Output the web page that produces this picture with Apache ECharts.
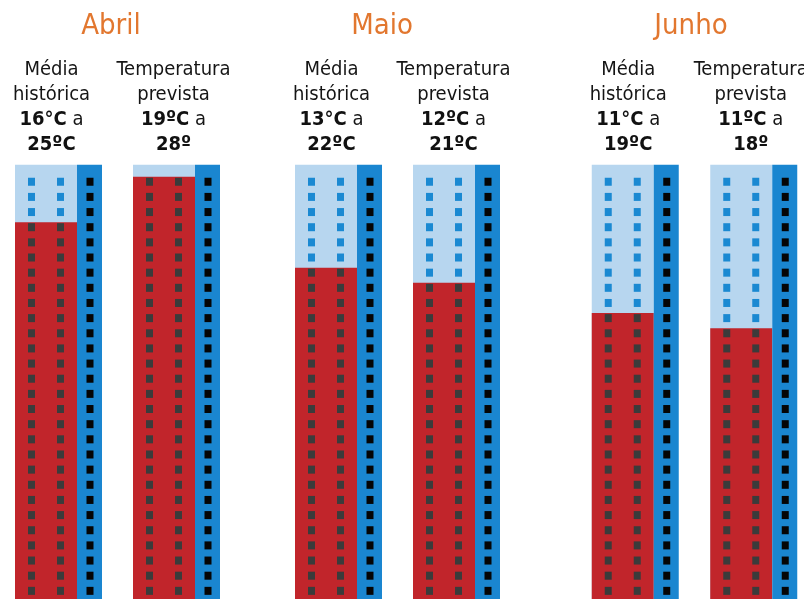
<!DOCTYPE html>
<html>
<head>
<meta charset="utf-8">
<script src="https://cdn.jsdelivr.net/npm/echarts@6/dist/echarts.min.js"></script>
<style>
html, body { margin: 0; padding: 0; background: #fff; }
#main { width: 804px; height: 599px; }
</style>
</head>
<body>
<div id="main"></div>
<script>
// dados
var months = ['Abril', 'Maio', 'Junho'];
var barNames = ['Média\nhistórica', 'Temperatura\nprevista'];
var histMin = [16, 13, 11];
var histMax = [25, 22, 19];
var prevMin = [19, 12, 11];
var prevMax = [28, 21, 18];
var histMinUnit = ['°C', '°C', '°C'];
var histMaxUnit = ['ºC', 'ºC', 'ºC'];
var prevMinUnit = ['ºC', 'ºC', 'ºC'];
var prevMaxUnit = ['º', 'ºC', 'º'];
var buildingTop = 28.8;

var FONT = "'DejaVu Sans Condensed', 'Liberation Sans', sans-serif";
var gridLeft = [-0.5, 279.5, 576];
var gridRight = [568.5, 288.5, -9];
var titleX = [111, 382, 691];

function labelText(m, cat) {
	var lo = cat === 0 ? histMin[m] + histMinUnit[m] : prevMin[m] + prevMinUnit[m];
	var hi = cat === 0 ? histMax[m] + histMaxUnit[m] : prevMax[m] + prevMaxUnit[m];
	return barNames[cat] + '\n{b|' + lo + '} a\n{b|' + hi + '}';
}

function renderBuilding(params, api) {
	var m = params.seriesIndex;
	var cat = api.value(0);
	var level = api.value(1);
	var base = api.coord([cat, 0]);
	var roof = api.coord([cat, buildingTop]);
	var fill = api.coord([cat, level]);
	var left = base[0] - 43.5;
	var children = [
		{type: 'rect', shape: {x: left, y: roof[1], width: 62, height: base[1] - roof[1]}, style: {fill: '#b7d6ef'}},
		{type: 'rect', shape: {x: left, y: fill[1], width: 62, height: base[1] - fill[1]}, style: {fill: '#c1252b'}},
		{type: 'rect', shape: {x: left + 62, y: roof[1], width: 25, height: base[1] - roof[1]}, style: {fill: '#1a86d0'}}
	];
	// janelas, uma fileira por grau
	for (var v = 1; v < buildingTop; v++) {
		var y = api.coord([cat, v])[1] + 1;
		var col = v > level ? '#1a89d2' : '#3b3b3b';
		children.push({type: 'rect', shape: {x: left + 13, y: y, width: 7, height: 8}, style: {fill: col}});
		children.push({type: 'rect', shape: {x: left + 42, y: y, width: 7, height: 8}, style: {fill: col}});
		children.push({type: 'rect', shape: {x: left + 71.5, y: y, width: 7, height: 8}, style: {fill: '#050505'}});
	}
	children.push({
		type: 'text',
		x: base[0] - (cat === 0 ? 7 : 3),
		y: 57.5,
		style: {
			text: labelText(m, cat),
			fill: '#151515',
			fontSize: 20,
			fontFamily: FONT,
			lineHeight: 25,
			align: 'center',
			verticalAlign: 'top',
			rich: {
				b: {fontSize: 20, fontWeight: 'bold', fontFamily: FONT, lineHeight: 25, fill: '#111'}
			}
		}
	});
	return {type: 'group', children: children};
}

var mainChart = echarts.init(document.getElementById('main'));
var grids = [], xAxes = [], yAxes = [], series = [], graphics = [];
for (var m = 0; m < months.length; m++) {
	grids.push({left: gridLeft[m], right: gridRight[m], top: 161.6, bottom: -2, outerBoundsMode: 'none', containLabel: false});
	xAxes.push({type: 'category', gridIndex: m, data: [0, 1], show: false});
	yAxes.push({type: 'value', gridIndex: m, min: 0, max: 29, show: false});
	series.push({
		type: 'custom',
		name: months[m],
		xAxisIndex: m,
		yAxisIndex: m,
		clip: false,
		renderItem: renderBuilding,
		data: [[0, histMax[m], histMin[m]], [1, prevMax[m], prevMin[m]]]
	});
	graphics.push({
		type: 'text',
		x: titleX[m],
		y: 26,
		style: {text: months[m], fill: '#e2772f', fontSize: 29, fontFamily: FONT, align: 'center', verticalAlign: 'middle'}
	});
}

var chartOpt = {
	animation: false,
	grid: grids,
	xAxis: xAxes,
	yAxis: yAxes,
	graphic: graphics,
	series: series
};
mainChart.setOption(chartOpt);
</script>
</body>
</html>
